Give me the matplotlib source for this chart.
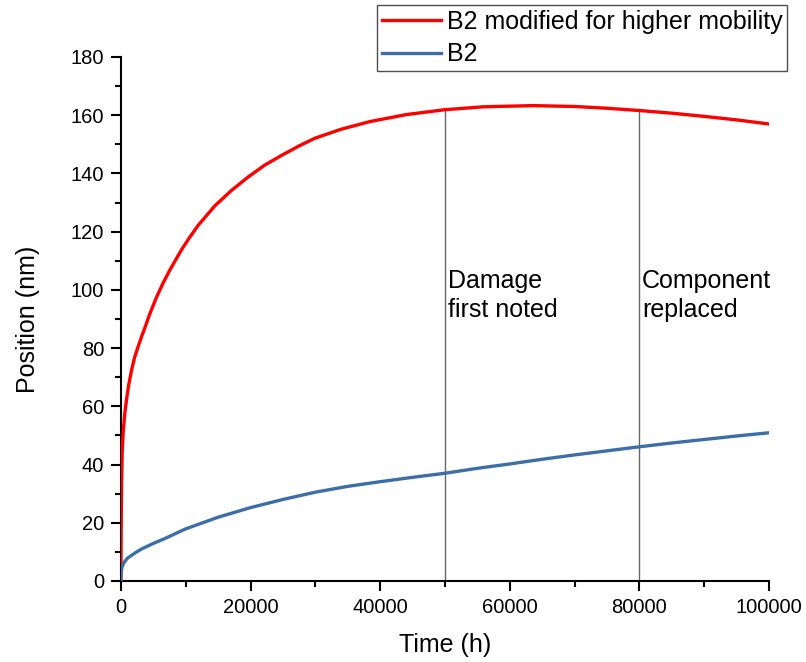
import numpy as np
import matplotlib.pyplot as plt
from matplotlib.ticker import MultipleLocator, ScalarFormatter

plt.rcParams['font.family'] = ['Liberation Sans', 'DejaVu Sans']

# Данные
t_red = [0, 30, 100, 200, 360, 600, 880, 1200, 1650, 2100, 2670, 3200, 3700,
         4500, 5500, 6500, 7500, 8630, 9360, 10600, 11930, 14510,
         17080, 19650, 22220, 24800, 27360, 29940, 34000, 38400, 44000,
         50000, 56000, 63600, 70000, 75000, 80100, 85000, 90000, 95000,
         100000]
pos_red = [0, 15, 34, 44, 51.5, 57.5, 62.5, 67.3, 72.5, 76.7, 80.6, 84.0,
           87.0, 92.0, 97.5, 102.3, 106.6, 111.0, 113.8, 118.0, 122.2,
           128.9, 134.2, 138.8, 142.9, 146.2, 149.3, 152.1, 155.2, 157.8,
           160.2, 161.9, 162.9, 163.3, 163.0, 162.4, 161.6, 160.7, 159.6,
           158.4, 157]

t_blue = [0, 30, 100, 200, 500, 1000, 2300, 3200, 5000, 6800, 10000, 15000,
          20000, 25000, 30000, 35000, 40000, 45000, 50000, 55000, 60000,
          65000, 70000, 75000, 80000, 85000, 90000, 95000, 100000]
pos_blue = [0, 2.2, 3.8, 5.0, 6.4, 7.8, 9.8, 11.0, 12.9, 14.6, 17.9, 21.9,
            25.2, 28.0, 30.5, 32.5, 34.1, 35.6, 37.0, 38.7, 40.2,
            41.8, 43.3, 44.7, 46.1, 47.4, 48.6, 49.8, 50.9]

events_t = [50000, 80000]
events_txt = ['Damage\nfirst noted', 'Component\nreplaced']
labels = ['B2 modified for higher mobility', 'B2']

fig = plt.figure(figsize=(8.06, 6.62), dpi=100)
ax = fig.add_axes([0.150, 0.1224, 0.804, 0.7915])

l_red, = ax.plot(t_red, pos_red, color='#ff0000', linewidth=2.4, zorder=3)
l_blue, = ax.plot(t_blue, pos_blue, color='#3d6ea8', linewidth=2.4, zorder=3)

# Вертикальные линии до красной кривой
for t, txt in zip(events_t, events_txt):
    top = np.interp(t, t_red, pos_red)
    ax.plot([t, t], [0, top], color='#666666', linewidth=1.0, zorder=2)
    ax.text(t + 400, 98, txt, fontsize=18, va='center', ha='left',
            linespacing=1.25)

ax.set_xlim(0, 100000)
ax.set_ylim(0, 180)
ax.xaxis.set_major_locator(MultipleLocator(20000))
ax.xaxis.set_minor_locator(MultipleLocator(10000))
ax.yaxis.set_major_locator(MultipleLocator(20))
ax.yaxis.set_minor_locator(MultipleLocator(10))
fmt = ScalarFormatter(useOffset=False)
fmt.set_scientific(False)
ax.xaxis.set_major_formatter(fmt)

for s in ['top', 'right']:
    ax.spines[s].set_visible(False)
for s in ['left', 'bottom']:
    ax.spines[s].set_linewidth(1.5)

ax.tick_params(which='major', direction='out', length=7, width=1.5,
               labelsize=14.5, pad=5)
ax.tick_params(which='minor', direction='out', length=4, width=1.5)

ax.set_xlabel('Time (h)', fontsize=18, labelpad=12)
ax.set_ylabel('Position (nm)', fontsize=18, labelpad=22)

leg = fig.legend([l_red, l_blue], labels, loc='upper right',
                 bbox_to_anchor=(0.977, 0.993), bbox_transform=fig.transFigure,
                 fontsize=18, frameon=True, fancybox=False, handlelength=2.35,
                 handletextpad=0.25, borderpad=0.2, borderaxespad=0,
                 labelspacing=0.35)
leg.get_frame().set_edgecolor('#222222')
leg.get_frame().set_linewidth(1.0)

fig.savefig('out.png', dpi=100)
